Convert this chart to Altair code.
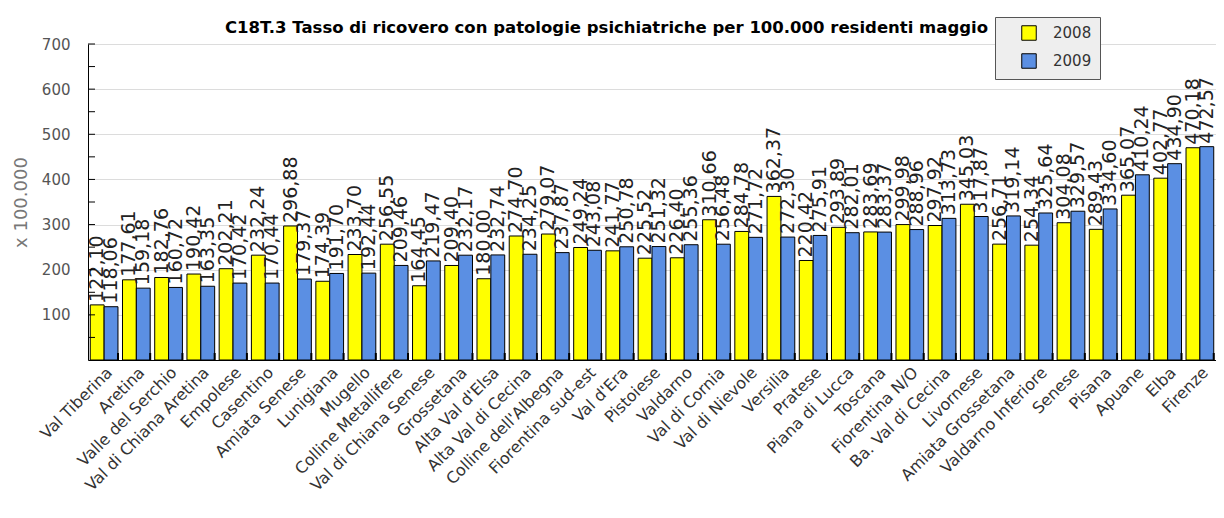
import altair as alt
import pandas as pd

categories = [
    "Val Tiberina", "Aretina", "Valle del Serchio", "Val di Chiana Aretina", "Empolese",
    "Casentino", "Amiata Senese", "Lunigiana", "Mugello", "Colline Metallifere",
    "Val di Chiana Senese", "Grossetana", "Alta Val d'Elsa", "Alta Val di Cecina",
    "Colline dell'Albegna", "Fiorentina sud-est", "Val d'Era", "Pistoiese", "Valdarno",
    "Val di Cornia", "Val di Nievole", "Versilia", "Pratese", "Piana di Lucca", "Toscana",
    "Fiorentina N/O", "Ba. Val di Cecina", "Livornese", "Amiata Grossetana",
    "Valdarno Inferiore", "Senese", "Pisana", "Apuane", "Elba", "Firenze",
]
v2008 = [
    122.10, 177.61, 182.76, 190.42, 202.21, 232.24, 296.88, 174.39, 233.70, 256.55,
    164.45, 209.40, 180.00, 274.70, 279.07, 249.24, 241.77, 225.52, 226.40, 310.66,
    284.78, 362.37, 220.42, 293.89, 283.69, 299.98, 297.92, 345.03, 256.71, 254.34,
    304.08, 289.43, 365.07, 402.77, 470.18,
]
v2009 = [
    118.06, 159.18, 160.72, 163.35, 170.42, 170.44, 179.37, 191.70, 192.44, 209.46,
    219.47, 232.17, 232.74, 234.25, 237.87, 243.08, 250.78, 251.32, 255.36, 256.48,
    271.72, 272.30, 275.91, 282.01, 283.37, 288.96, 313.73, 317.87, 319.14, 325.64,
    329.57, 334.60, 410.24, 434.90, 472.57,
]
years = ["2008", "2009"]
colors = ["#FFFF00", "#5B8FE3"]
y_ticks = [100, 200, 300, 400, 500, 600, 700]
minor_ticks = [50, 100, 150, 200, 250, 300, 350, 400, 450, 500, 550, 600, 650, 700]

rows = []
for c, a, b in zip(categories, v2008, v2009):
    for yr, v in (("2008", a), ("2009", b)):
        rows.append({"cat": c, "year": yr, "value": v,
                     "label": f"{v:.2f}".replace(".", ",")})
df = pd.DataFrame(rows)
df_ticks = pd.DataFrame({"value": minor_ticks})
df_cats = pd.DataFrame({"cat": categories})

W, H = 1128, 316

x_enc = alt.X(
    "cat:N", sort=categories,
    scale=alt.Scale(paddingInner=0.14, paddingOuter=0.07),
    axis=alt.Axis(title=None, labelAngle=-45, labelFontSize=16, labelColor="#333333",
                  labelFont="DejaVu Sans", domainColor="black", ticks=False,
                  labelPadding=4, labelOverlap=False, labelLimit=0),
)
y_enc = alt.Y(
    "value:Q",
    scale=alt.Scale(domain=[0, 700], nice=False, zero=True),
    axis=alt.Axis(title="x 100.000", values=y_ticks, ticks=False, domainColor="black",
                  gridColor="#dcdcdc", labelFontSize=15, labelColor="#555555",
                  labelFont="DejaVu Sans", labelPadding=18,
                  titleFontSize=18, titleColor="#777777", titleFont="DejaVu Sans",
                  titleFontWeight="normal", titlePadding=11),
)

bars = alt.Chart(df).mark_bar(stroke="black", strokeWidth=1).encode(
    x=x_enc,
    y=y_enc,
    xOffset=alt.XOffset("year:N", sort=years, scale=alt.Scale(paddingInner=0, paddingOuter=0)),
    color=alt.Color(
        "year:N", sort=years,
        scale=alt.Scale(domain=years, range=colors),
        legend=alt.Legend(
            title=None, orient="none", legendX=907, legendY=-27,
            fillColor="#EEEEEE", strokeColor="#555555", padding=8,
            symbolType="square", symbolSize=210, symbolStrokeColor="black",
            symbolStrokeWidth=1, symbolOpacity=1, symbolOffset=18,
            labelFontSize=15, labelFont="DejaVu Sans", labelColor="#333333",
            labelOffset=16, rowPadding=8,
            labelExpr="datum.label + '\u00a0\u00a0\u00a0\u00a0\u00a0'",
        ),
    ),
)

labels = alt.Chart(df).mark_text(
    angle=270, align="left", baseline="middle", dx=3, fontSize=19,
    font="DejaVu Sans", color="#222222",
).encode(
    x=alt.X("cat:N", sort=categories),
    y=alt.Y("value:Q"),
    xOffset=alt.XOffset("year:N", sort=years),
    text="label:N",
)

y_minor = alt.Chart(df_ticks).mark_rule(color="black", strokeWidth=1).encode(
    y=alt.Y("value:Q"),
    x=alt.value(0), x2=alt.value(7),
)

x_minor = alt.Chart(df_cats).mark_rule(color="black", strokeWidth=2).encode(
    x=alt.X("cat:N", sort=categories, bandPosition=1),
    y=alt.value(H - 7), y2=alt.value(H),
)

chart = alt.layer(bars, labels, y_minor, x_minor).properties(
    width=W, height=H,
    autosize=alt.AutoSizeParams(type="none"),
    padding={"left": 80, "top": 36, "right": 0, "bottom": 150},
    title=alt.TitleParams(
        "C18T.3 Tasso di ricovero con patologie psichiatriche per 100.000 residenti maggio",
        anchor="start", frame="group", dx=137, dy=32, offset=12,
        fontSize=16.5, font="DejaVu Sans", fontWeight="bold", color="black",
    ),
).configure_view(fill="#F5F5F5", stroke=None).configure(background="white")

chart.save("out.html", embed_options={"renderer": "svg", "actions": False})
